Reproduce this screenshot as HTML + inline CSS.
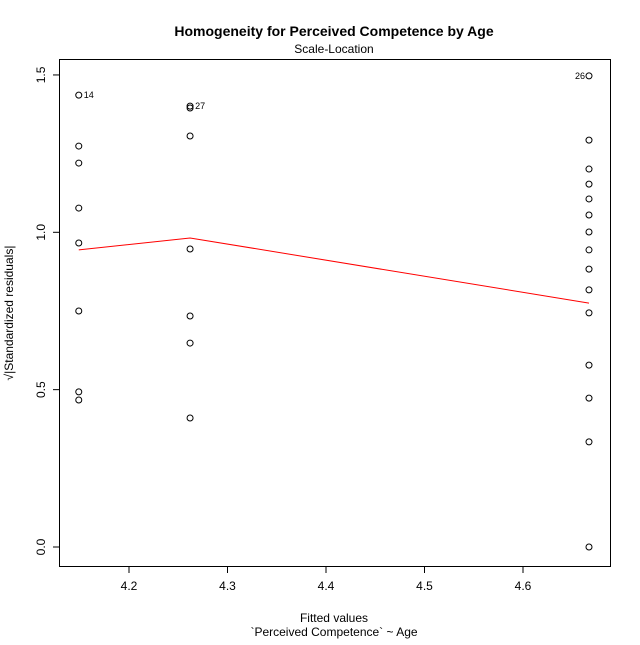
<!DOCTYPE html>
<html><head><meta charset="utf-8"><style>
body{margin:0;background:#fff;}
svg text{font-family:"Liberation Sans",sans-serif;}
</style></head><body>
<svg id="chart" width="640" height="640">
<text x="334" y="36" font-size="14" font-weight="bold" text-anchor="middle">Homogeneity for Perceived Competence by Age</text>
<text x="334" y="53" font-size="12" text-anchor="middle">Scale-Location</text>
<rect x="59.5" y="59.5" width="551" height="507" fill="none" stroke="#000"/>
<g id="axes"></g>
<g id="pts"></g>
<text x="334" y="622" font-size="12" text-anchor="middle">Fitted values</text>
<text x="334" y="636" font-size="12" text-anchor="middle">`Perceived Competence` ~ Age</text>
<text transform="translate(13,313) rotate(-90)" font-size="12" text-anchor="middle">√|Standardized residuals|</text>
</svg>
<script>
const fitted = [4.149,4.149,4.149,4.149,4.149,4.149,4.149,4.149,
4.262,4.262,4.262,4.262,4.262,4.262,4.262,
4.667,4.667,4.667,4.667,4.667,4.667,4.667,4.667,4.667,4.667,4.667,4.667,4.667,4.667,4.667];
const sqrtResid = [1.436,1.274,1.220,1.077,0.966,0.750,0.493,0.467,
1.401,1.395,1.306,0.947,0.734,0.648,0.410,
1.497,1.293,1.201,1.153,1.106,1.055,1.001,0.944,0.883,0.817,0.744,0.578,0.473,0.334,0.0];
const labels = {0:"14",8:"27",15:"26"};
const smoothX = [4.149,4.262,4.667];
const smoothY = [0.944,0.982,0.775];
const xTicks = [4.2,4.3,4.4,4.5,4.6];
const yTicks = [0.0,0.5,1.0,1.5];
const ns="http://www.w3.org/2000/svg";
const sx=v=>129+(v-4.2)*985;
const sy=v=>547-v*314.7;
function mk(tag,attrs,parent){const e=document.createElementNS(ns,tag);for(const k in attrs)e.setAttribute(k,attrs[k]);parent.appendChild(e);return e;}
const ax=document.getElementById('axes');
xTicks.forEach(t=>{
 const l=mk('line',{x1:sx(t),x2:sx(t),y1:566.5,y2:573,stroke:'#000'},ax);
 
 
 const tx=mk('text',{x:sx(t),y:590,'font-size':12,'text-anchor':'middle'},ax);tx.textContent=t.toFixed(1);
 
 
});
yTicks.forEach(t=>{
 const l=mk('line',{x1:53,x2:59.5,y1:sy(t),y2:sy(t),stroke:'#000'},ax);
 
 
 const tx=mk('text',{transform:`translate(45,${sy(t)}) rotate(-90)`,'font-size':12,'text-anchor':'middle'},ax);tx.textContent=t.toFixed(1);
 
 
});
const pg=document.getElementById('pts');
fitted.forEach((f,i)=>{
 const c=mk('circle',{cx:sx(f),cy:sy(sqrtResid[i]),r:3,fill:'none',stroke:'#000','stroke-width':1},pg);
 
 
 if(labels[i]){
  const right = f<4.5;
  const t=mk('text',{x:sx(f)+(right?5:-4),y:sy(sqrtResid[i])+3,'font-size':9,'text-anchor':right?'start':'end'},pg);
  t.textContent=labels[i];
  
  
 }
});
const p=mk('polyline',{points:smoothX.map((x,i)=>sx(x)+','+sy(smoothY[i])).join(' '),fill:'none',stroke:'#ff0000','stroke-width':1},pg);


</script>
</body></html>
